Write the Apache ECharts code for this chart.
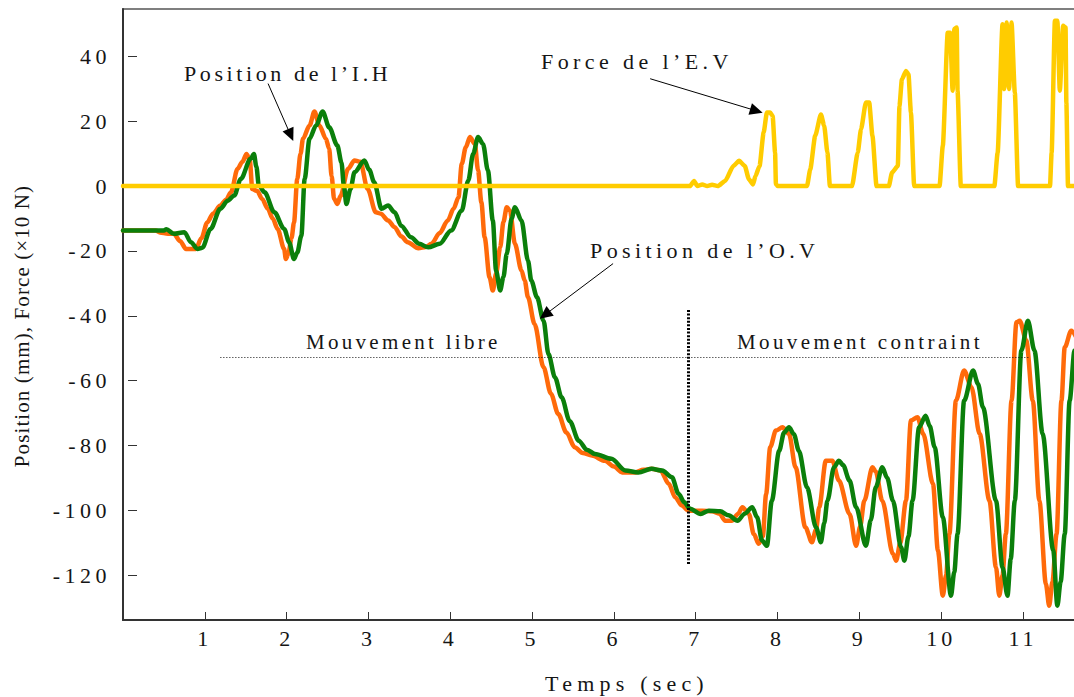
<!DOCTYPE html>
<html>
<head>
<meta charset="utf-8">
<script src="https://cdn.jsdelivr.net/npm/echarts@6/dist/echarts.min.js"></script>
<style>
html,body{margin:0;padding:0;background:#fff;}
#c{width:1074px;height:697px;}
</style>
</head>
<body>
<div id="c"></div>
<script>
// ---- Data ----
// Position de l'I.H (orange)
const ihTime = [0,0.40,0.45,0.55,0.62,0.70,0.77,0.89,0.96,1.03,1.10,1.19,1.26,1.32,1.40,1.46,1.51,1.55,1.58,1.64,1.70,1.77,1.83,1.89,1.97,1.99,2.02,2.06,2.09,2.13,2.17,2.20,2.28,2.34,2.40,2.48,2.52,2.55,2.58,2.62,2.66,2.75,2.83,2.90,2.99,3.09,3.15,3.24,3.32,3.40,3.48,3.61,3.70,3.77,3.87,3.97,4.04,4.10,4.14,4.19,4.24,4.30,4.34,4.38,4.42,4.48,4.52,4.56,4.61,4.65,4.69,4.73,4.79,4.87,4.91,4.95,5.03,5.14,5.23,5.32,5.42,5.52,5.62,5.73,5.89,6.00,6.10,6.26,6.36,6.46,6.57,6.67,6.75,6.83,6.91,7.08,7.20,7.29,7.36,7.44,7.52,7.57,7.65,7.71,7.77,7.82,7.86,7.91,7.98,8.06,8.14,8.22,8.34,8.42,8.47,8.51,8.59,8.67,8.75,8.88,8.96,9.01,9.06,9.16,9.20,9.28,9.41,9.45,9.50,9.57,9.63,9.71,9.78,9.90,9.96,10.02,10.06,10.10,10.18,10.28,10.37,10.47,10.59,10.67,10.71,10.75,10.79,10.86,10.92,10.96,11.04,11.12,11.20,11.28,11.32,11.36,11.41,11.47,11.51,11.59,11.66];
const ihPos  = [-13.7,-13.7,-14.3,-14.7,-14.7,-17,-19.4,-19.4,-16,-11.2,-8.5,-6,-4.2,-1.9,5.3,7.5,9.9,8,-0.9,-1.5,-4,-7,-10,-13.2,-19.4,-22.5,-21,-16,-11.2,2.2,10,14.6,18.7,23,18.7,14.6,11.5,3,-3.9,-5.5,-3,5.3,7.9,7.5,-0.9,-8.1,-8.5,-10.6,-12.7,-15.5,-17.3,-19.2,-18.8,-17.8,-14.5,-10.6,-7,-3.5,6.8,12,15.1,13,4.8,-5,-15.8,-28.1,-32.2,-27,-18.9,-11,-6.5,-7.6,-17.8,-26,-29.1,-34.3,-42.5,-55.9,-64,-70.3,-76,-80.5,-82.3,-83.1,-84.7,-86.5,-88.3,-88.3,-87.5,-87.2,-87.7,-91.8,-96,-98.5,-100.1,-100.1,-100.3,-101,-103.2,-103.2,-101,-99,-101.1,-107.3,-110.3,-108,-95,-80.5,-75.4,-74.4,-76.4,-86.7,-105.2,-109.8,-106,-99,-84.7,-84.7,-90.8,-101.1,-110.9,-105,-97,-86.7,-88,-97,-113.4,-115.5,-110,-97,-72.3,-71.3,-76.4,-91.8,-112.4,-126.3,-120,-107.3,-66.2,-56.9,-62,-76.4,-97,-117.6,-126.3,-120,-107.3,-66.2,-42,-41.5,-47.6,-66.2,-97,-122.7,-129.4,-122,-107.3,-66.2,-49.7,-44.6,-47.1];

// Position de l'O.V (green)
const ovTime = [0,0.50,0.53,0.62,0.75,0.83,0.91,0.97,1.07,1.19,1.28,1.36,1.44,1.56,1.60,1.63,1.66,1.73,1.85,1.97,2.03,2.09,2.13,2.18,2.22,2.28,2.36,2.44,2.52,2.62,2.67,2.70,2.73,2.78,2.83,2.95,3.01,3.07,3.16,3.24,3.32,3.40,3.52,3.62,3.73,3.87,4.01,4.14,4.22,4.28,4.34,4.40,4.46,4.52,4.56,4.61,4.65,4.69,4.75,4.79,4.87,4.95,4.99,5.06,5.14,5.20,5.28,5.36,5.46,5.57,5.67,5.77,5.97,6.14,6.30,6.46,6.59,6.71,6.79,6.86,6.93,7.06,7.16,7.30,7.40,7.51,7.60,7.69,7.75,7.81,7.87,7.93,8.02,8.08,8.14,8.20,8.26,8.36,8.47,8.53,8.57,8.61,8.69,8.75,8.80,8.88,8.96,9.08,9.14,9.20,9.28,9.34,9.41,9.51,9.55,9.60,9.65,9.73,9.81,9.86,9.92,10.02,10.12,10.16,10.20,10.28,10.39,10.45,10.51,10.67,10.75,10.81,10.85,10.90,10.98,11.06,11.14,11.24,11.37,11.42,11.46,11.51,11.57,11.63,11.66];
const ovPos  = [-13.7,-13.7,-13.3,-14.7,-14.2,-17.3,-19.4,-19,-13.2,-7,-4.5,-2.9,2.2,8.4,9.9,6,0.2,-1.9,-8.1,-13.2,-17.3,-22.5,-20.5,-15.3,2.2,14.6,18.7,23,18.1,12.5,7.3,0,-5.5,-1,4.3,7.9,5,1.2,-7,-6,-8.1,-12.2,-15.8,-17.8,-18.9,-17.8,-13.7,-7.6,1.7,10,15.1,13,4.8,-10.6,-26.1,-32.2,-28,-20.9,-10,-6.5,-10.6,-23,-29.1,-34.3,-41.5,-51.8,-59,-65.1,-72.5,-78.5,-81.3,-82.6,-84.1,-87.7,-88.3,-87.2,-87.7,-89.8,-94.9,-97.5,-99.5,-101.1,-100.1,-100.3,-101.5,-103.2,-101,-99,-102.1,-109.3,-110.9,-97,-81.6,-76,-74.4,-76.5,-81.6,-92.9,-105.2,-109.8,-104,-97,-86.7,-84.7,-86,-90.8,-99,-110.9,-103,-92.9,-86.7,-90,-97,-111.4,-115.5,-108,-97,-74.4,-70.8,-74,-80.5,-102.1,-126.3,-119,-107.3,-66.2,-56.9,-61,-68.2,-97,-117.6,-126.3,-115,-97,-50.7,-41.5,-50.7,-76.4,-112.4,-129.4,-122,-107.3,-66.2,-50.7,-50];

// Force de l'E.V (yellow)
const evTime  = [0,6.93,6.98,7.02,7.08,7.14,7.20,7.27,7.36,7.46,7.53,7.60,7.65,7.70,7.73,7.78,7.83,7.87,7.91,7.94,7.97,7.98,8.00,8.36,8.40,8.46,8.53,8.57,8.61,8.64,8.91,8.98,9.02,9.08,9.12,9.16,9.21,9.36,9.40,9.47,9.49,9.52,9.57,9.60,9.63,9.67,9.98,10.02,10.08,10.11,10.14,10.16,10.19,10.20,10.24,10.65,10.69,10.75,10.77,10.80,10.83,10.86,10.90,10.94,11.33,11.35,11.39,11.42,11.45,11.49,11.52,11.53,11.55,11.66];
const evForce = [0,0,1.6,0,0.5,0,0.4,0,1.6,6.2,7.8,6.2,2.1,0.5,3.1,6.2,16.5,22.7,22.7,21.6,10.3,0.6,0,0,5.2,15.5,22.1,18.6,10.3,0,0,10.3,17.5,25.8,25.8,15.5,0,0,4.2,6.2,24.7,32.9,35.5,34.5,22.7,0,0,12.4,47.3,47.3,29.4,48.4,48.9,29.4,0,0,10.3,49.9,29.9,50.4,29.9,50.4,28.8,0,0,10.3,51,51,29.4,49.4,48.9,25.8,0,0];

// Tick labels
const xTicks = [1,2,3,4,5,6,7,8,9,10,11];
const yTicks = [-120,-100,-80,-60,-40,-20,0,20,40];

// Texts
const yTitle = 'Position (mm), Force (×10 N)';
const xTitle = 'Temps (sec)';
const labIH = 'Position de l’I.H';
const labEV = 'Force de l’E.V';
const labOV = 'Position de l’O.V';
const labLibre = 'Mouvement libre';
const labContraint = 'Mouvement contraint';

// ---- Chart ----
const FONT = "'Liberation Serif', 'Times New Roman', serif";
const pairs = (xs, ys) => xs.map((x, i) => [x, ys[i]]);

const chart = echarts.init(document.getElementById('c'), null, {renderer: 'svg'});

const arrowLine = (from, to) => [
  {coord: from, symbol: 'none'},
  {coord: to, symbol: 'triangle', symbolSize: [12, 13]}
];

const txt = (text, x, y, size, align) => ({
  type: 'text', x: x, y: y, silent: true,
  style: {text: text, fontFamily: FONT, fontSize: size, fill: '#151515',
          textAlign: align || 'left', textVerticalAlign: 'middle'}
});

const option = {
  animation: false,
  backgroundColor: '#fff',
  grid: {left: 123, top: 9, right: -3, bottom: 77, show: true,
         borderColor: '#555', borderWidth: 1.5, containLabel: false, outerBoundsMode: 'none'},
  xAxis: {
    type: 'value', min: 0, max: 11.66,
    axisLine: {show: true, onZero: false, lineStyle: {color: '#333', width: 2}},
    axisTick: {show: true, inside: true, length: 8, customValues: xTicks, lineStyle: {color: '#333', width: 1}},
    axisLabel: {show: true, customValues: xTicks, margin: 7, fontFamily: FONT, fontSize: 22, color: '#151515'},
    splitLine: {show: false}
  },
  yAxis: [
    {
      type: 'value', min: -133.8, max: 54.6, position: 'left',
      axisLine: {show: true, onZero: false, lineStyle: {color: '#333', width: 2}},
      axisTick: {show: false},
      axisLabel: {show: true, customValues: yTicks, margin: 12, fontFamily: FONT, fontSize: 22, color: '#151515'},
      splitLine: {show: false}
    },
    {
      type: 'value', min: -133.8, max: 54.6, position: 'left', offset: -5,
      axisLine: {show: false},
      axisTick: {show: true, inside: true, length: 9, customValues: yTicks, lineStyle: {color: '#333', width: 1}},
      axisLabel: {show: false},
      splitLine: {show: false}
    }
  ],
  series: [
    {name: 'I.H', type: 'line', data: pairs(ihTime, ihPos), showSymbol: false, symbol: 'none',
     smooth: 0.3, smoothMonotone: 'x',
     lineStyle: {color: '#FF6A0A', width: 4.5, join: 'round', cap: 'round'}, silent: true, z: 2},
    {name: 'O.V', type: 'line', data: pairs(ovTime, ovPos), showSymbol: false, symbol: 'none',
     smooth: 0.3, smoothMonotone: 'x',
     lineStyle: {color: '#0B7F0B', width: 4.5, join: 'round', cap: 'round'}, silent: true, z: 3},
    {name: 'E.V', type: 'line', data: pairs(evTime, evForce), showSymbol: false, symbol: 'none',
     smooth: 0.2, smoothMonotone: 'x',
     lineStyle: {color: '#FFCC00', width: 4.5, join: 'round', cap: 'round'}, silent: true, z: 4,
     markLine: {
       silent: true, animation: false, label: {show: false},
       lineStyle: {color: '#000', width: 1, type: 'solid'},
       emphasis: {disabled: true},
       data: [
         arrowLine([1.773, 31.6], [2.049, 15.7]),
         arrowLine([6.443, 33.1], [7.742, 23.2]),
         arrowLine([5.99, -23.9], [5.157, -39.7]),
         [{coord: [1.19, -52.7], symbol: 'none', lineStyle: {type: [1, 2], width: 1, color: '#111'}},
          {coord: [11.09, -52.7], symbol: 'none'}],
         [{coord: [6.907, -38.2], symbol: 'none', lineStyle: {type: [2, 1.6], width: 3, color: '#000'}},
          {coord: [6.907, -116.9], symbol: 'none'}]
       ]
     }}
  ],
  graphic: [
    Object.assign(txt(yTitle, 22, 326, 21, 'center'), {rotation: Math.PI / 2}),
    txt(xTitle, 627, 683, 22, 'center'),
    txt(labIH, 184, 73, 22),
    txt(labEV, 541, 61, 22),
    txt(labOV, 590, 250, 22),
    txt(labLibre, 306, 342, 21),
    txt(labContraint, 737, 342, 21)
  ]
};

chart.setOption(option);

// Expanded character spacing, as in the reference typography
const spacing = {};
yTicks.forEach(v => { spacing[String(v)] = 4.5; });
xTicks.forEach(v => { spacing[String(v)] = 4; });
spacing[yTitle] = 1.1;
spacing[xTitle] = 5.2;
spacing[labIH] = 3.6;
spacing[labEV] = 4.4;
spacing[labOV] = 4.4;
spacing[labLibre] = 3.3;
spacing[labContraint] = 3.4;

function applySpacing() {
  document.querySelectorAll('#c svg text').forEach(t => {
    const s = spacing[t.textContent];
    if (s != null) t.style.letterSpacing = s + 'px';
  });
}
applySpacing();
chart.on('finished', applySpacing);
setTimeout(applySpacing, 50);
setTimeout(applySpacing, 300);
</script>
</body>
</html>
